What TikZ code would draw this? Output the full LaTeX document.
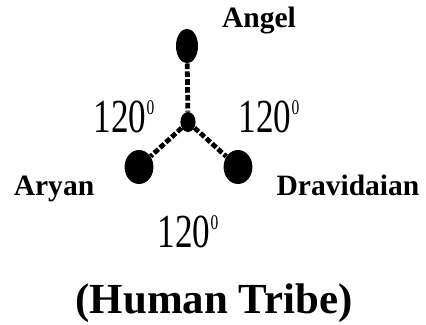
\documentclass[tikz,border=0pt]{standalone}
\usepackage{fontspec}
\setmainfont{Liberation Serif}
\usepackage{tikz}
\usetikzlibrary{shapes.geometric}
\tikzset{
  dot/.style={ellipse, fill=black, draw=none, inner sep=0pt},
  link/.style={line width=3.4pt, color=black, dash pattern=on 4pt off 1.6pt},
  tribe/.style={font=\fontsize{21}{24}\selectfont\bfseries, anchor=base},
  angle/.style={font=\fontsize{25}{28}\selectfont, anchor=base, inner sep=0pt}
}
\newcommand{\ang}{\scalebox{1}[1.35]{120\raisebox{0.36em}{\fontsize{11}{12}\selectfont 0}}}
\begin{document}
\begin{tikzpicture}[x=0.025cm, y=-0.025cm]
  \useasboundingbox[fill=white] (0,0) rectangle (426,324);
  % dots
  \node[dot, minimum width=0.55cm, minimum height=0.86cm] (angel) at (187,46) {};
  \node[dot, minimum width=0.38cm, minimum height=0.5cm] (hub) at (188,122) {};
  \node[dot, minimum width=0.72cm, minimum height=0.85cm] (aryan) at (139,167) {};
  \node[dot, minimum width=0.72cm, minimum height=0.85cm] (dravid) at (238,167) {};

  % dashed bonds
  \draw[link] (angel) -- (hub);
  \draw[link] (hub) -- (aryan);
  \draw[link] (hub) -- (dravid);

  % names
  \node[tribe] (angellbl) at (259,27) {Angel};
  \node[tribe] (aryanlbl) at (54,195) {Aryan};
  \node[tribe] (dravidlbl) at (348,195) {Dravidaian};

  % angles
  \node[angle] (angl) at (124,132) {\ang};
  \node[angle] (angr) at (269,132) {\ang};
  \node[angle] (angb) at (188,247) {\ang};

  % caption
  \node[anchor=base, font=\fontsize{30.5}{34}\selectfont\bfseries] (caption) at (214,313) {(Human Tribe)};
\end{tikzpicture}
\end{document}
